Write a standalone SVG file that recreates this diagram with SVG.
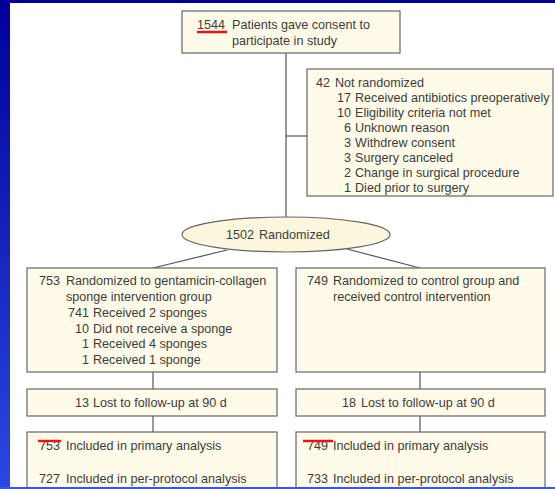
<svg xmlns="http://www.w3.org/2000/svg" width="555" height="489" viewBox="0 0 555 489">
<defs>
<linearGradient id="side" x1="0" y1="0" x2="0" y2="1">
<stop offset="0" stop-color="#000099"/>
<stop offset="1" stop-color="#2b48e0"/>
</linearGradient>
<style>
.box{fill:#fffbe8;stroke:#666;stroke-width:1.2}
.ell{fill:#fcf7dc;stroke:#666;stroke-width:1.2}
.ln{stroke:#555;stroke-width:1.2;fill:none}
text{font-family:"Liberation Sans",Arial,sans-serif;font-size:12.6px;fill:#3c3c3c}
.n{text-anchor:end}
.mark{stroke:#ee1111;stroke-width:2.5}
</style>
</defs>
<rect x="0" y="0" width="555" height="489" fill="#ffffff"/>
<g id="connectors">
<line class="ln" x1="286" y1="53" x2="286" y2="217"/>
<line class="ln" x1="286" y1="136" x2="307" y2="136"/>
<line class="ln" x1="227" y1="250" x2="153" y2="268"/>
<line class="ln" x1="347" y1="249" x2="420" y2="268"/>
<line class="ln" x1="153" y1="372" x2="153" y2="389"/>
<line class="ln" x1="420" y1="372" x2="420" y2="389"/>
<line class="ln" x1="153" y1="416" x2="153" y2="432"/>
<line class="ln" x1="420" y1="416" x2="420" y2="432"/>
</g>
<g id="consent">
<rect class="box" x="182" y="11" width="218" height="42"/>
<text x="197" y="29">1544</text>
<text x="232" y="29">Patients gave consent to</text>
<text x="232" y="45">participate in study</text>
<line class="mark" x1="197" y1="32" x2="227" y2="32"/>
</g>
<g id="not-randomized">
<rect class="box" x="307" y="69" width="246" height="127"/>
<text class="n" x="330" y="87">42</text><text x="335" y="87">Not randomized</text>
<text class="n" x="351" y="102">17</text><text x="355" y="102">Received antibiotics preoperatively</text>
<text class="n" x="351" y="117">10</text><text x="355" y="117">Eligibility criteria not met</text>
<text class="n" x="351" y="132">6</text><text x="355" y="132">Unknown reason</text>
<text class="n" x="351" y="147">3</text><text x="355" y="147">Withdrew consent</text>
<text class="n" x="351" y="162">3</text><text x="355" y="162">Surgery canceled</text>
<text class="n" x="351" y="177">2</text><text x="355" y="177">Change in surgical procedure</text>
<text class="n" x="351" y="192">1</text><text x="355" y="192">Died prior to surgery</text>
</g>
<g id="randomized">
<ellipse class="ell" cx="286" cy="234.5" rx="104" ry="17.5"/>
<text x="226" y="239">1502</text><text x="259" y="239">Randomized</text>
</g>
<g id="intervention">
<rect class="box" x="27" y="268" width="250" height="104"/>
<text class="n" x="60" y="285">753</text><text x="66" y="285">Randomized to gentamicin-collagen</text>
<text x="66" y="301">sponge intervention group</text>
<text class="n" x="89" y="317">741</text><text x="93" y="317">Received 2 sponges</text>
<text class="n" x="89" y="333">10</text><text x="93" y="333">Did not receive a sponge</text>
<text class="n" x="89" y="348">1</text><text x="93" y="348">Received 4 sponges</text>
<text class="n" x="89" y="364">1</text><text x="93" y="364">Received 1 sponge</text>
</g>
<g id="control">
<rect class="box" x="296" y="268" width="249" height="104"/>
<text class="n" x="328" y="285">749</text><text x="333" y="285">Randomized to control group and</text>
<text x="333" y="301">received control intervention</text>
</g>
<g id="lost-intervention">
<rect class="box" x="27" y="389" width="250" height="27"/>
<text x="75" y="407">13</text><text x="93" y="407">Lost to follow-up at 90 d</text>
</g>
<g id="lost-control">
<rect class="box" x="296" y="389" width="249" height="27"/>
<text x="342" y="407">18</text><text x="361" y="407">Lost to follow-up at 90 d</text>
</g>
<g id="analysis-intervention">
<rect class="box" x="27" y="432" width="250" height="70"/>
<text class="n" x="60" y="450">753</text><text x="66" y="450">Included in primary analysis</text>
<text class="n" x="60" y="483">727</text><text x="66" y="483">Included in per-protocol analysis</text>
<line class="mark" x1="38" y1="441" x2="61" y2="441"/>
</g>
<g id="analysis-control">
<rect class="box" x="296" y="432" width="249" height="70"/>
<text class="n" x="328" y="450">749</text><text x="333" y="450">Included in primary analysis</text>
<text class="n" x="328" y="483">733</text><text x="333" y="483">Included in per-protocol analysis</text>
<line class="mark" x1="303" y1="441" x2="333" y2="441"/>
</g>
<rect x="0" y="0" width="555" height="3" fill="#000099"/>
<rect x="0" y="0" width="10" height="489" fill="url(#side)"/>
<rect x="0" y="487" width="555" height="2" fill="#3458ee"/>
</svg>
